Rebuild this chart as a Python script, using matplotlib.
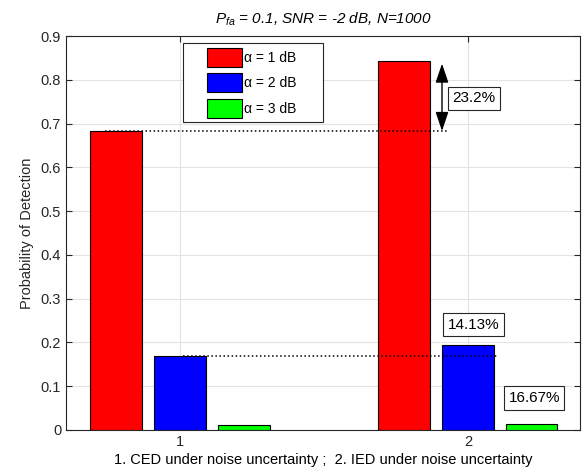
import numpy as np
import matplotlib
matplotlib.use("Agg")
import matplotlib.pyplot as plt
from matplotlib.ticker import FuncFormatter
from matplotlib.patches import Rectangle

plt.rcParams['font.family'] = ['Liberation Sans', 'DejaVu Sans']
plt.rcParams['mathtext.fontset'] = 'custom'
plt.rcParams['mathtext.it'] = 'Liberation Sans:italic'
plt.rcParams['mathtext.rm'] = 'Liberation Sans'

# data
groups = [1, 2]
series_labels = ['α = 1 dB', 'α = 2 dB', 'α = 3 dB']
pd_alpha1 = [0.683, 0.842]
pd_alpha2 = [0.170, 0.194]
pd_alpha3 = [0.012, 0.014]
gain_labels = ['23.2%', '14.13%', '16.67%']

colors = ['#ff0000', '#0000ff', '#00ff00']
dark = '#262626'

fig = plt.figure(figsize=(5.84, 4.74), dpi=100)
ax = fig.add_axes([0.113, 0.093, 0.880, 0.831])

x = np.array(groups, dtype=float)
step = 0.222
width = 0.178
series = [pd_alpha1, pd_alpha2, pd_alpha3]
for i, vals in enumerate(series):
    ax.bar(x + (i - 1) * step, vals, width, color=colors[i], edgecolor='black',
           linewidth=0.8, label=series_labels[i], zorder=3)

# reference lines from group 1 to group 2
ax.plot([0.74, 1.93], [pd_alpha1[0], pd_alpha1[0]], color='black', linestyle=':',
        linewidth=1.1, zorder=4)
ax.plot([1.01, 2.10], [pd_alpha2[0], pd_alpha2[0]], color='black', linestyle=':',
        linewidth=1.1, zorder=4)

# double arrow showing the gain
ax.annotate('', xy=(1.91, pd_alpha1[1] - 0.005), xytext=(1.91, pd_alpha1[0]),
            arrowprops=dict(arrowstyle='<|-|>,head_length=0.65,head_width=0.22',
                            color='black', lw=1.0, mutation_scale=18,
                            shrinkA=0, shrinkB=0), zorder=5)

box = dict(boxstyle='square,pad=0.3', facecolor='white', edgecolor=dark, linewidth=0.8)
ax.text(2.02, 0.758, gain_labels[0], ha='center', va='center', fontsize=11, bbox=box, zorder=6)
ax.text(2.02, 0.240, gain_labels[1], ha='center', va='center', fontsize=11, bbox=box, zorder=6)
ax.text(2.23, 0.073, gain_labels[2], ha='center', va='center', fontsize=11, bbox=box, zorder=6)

ax.set_xlim(0.604, 2.389)
ax.set_ylim(0, 0.9)
ax.set_xticks(groups)
ax.set_yticks(np.arange(0, 0.91, 0.1))
ax.yaxis.set_major_formatter(FuncFormatter(lambda v, p: '0' if abs(v) < 1e-9 else f'{v:.1f}'))
ax.tick_params(direction='in', top=True, right=True, length=4, width=0.8,
               colors=dark, labelsize=10.5)
ax.grid(True, color='#e3e3e3', linewidth=0.8, zorder=0)
ax.set_axisbelow(True)
for s in ax.spines.values():
    s.set_color(dark)
    s.set_linewidth(0.8)

ax.set_ylabel('Probability of Detection', fontsize=10.5, color=dark, labelpad=5)
ax.set_xlabel('1. CED under noise uncertainty ;  2. IED under noise uncertainty',
              fontsize=10.5, color='black', labelpad=3)
ax.set_title('$P_{fa}$ = 0.1, SNR = -2 dB, N=1000', fontsize=11, style='italic', pad=9)

# legend: frame drawn separately to get the wide MATLAB-style box
ax.add_patch(Rectangle((0.228, 0.782), 0.272, 0.200, transform=ax.transAxes,
                       facecolor='white', edgecolor=dark, linewidth=0.8, zorder=7))
leg = ax.legend(loc='upper left', bbox_to_anchor=(0.274, 0.970), fontsize=10,
                frameon=False, handlelength=2.5, handleheight=1.75,
                handletextpad=0.15, labelspacing=0.45,
                borderpad=0.0, borderaxespad=0)
leg.set_zorder(8)

fig.savefig('out.png', dpi=100)
